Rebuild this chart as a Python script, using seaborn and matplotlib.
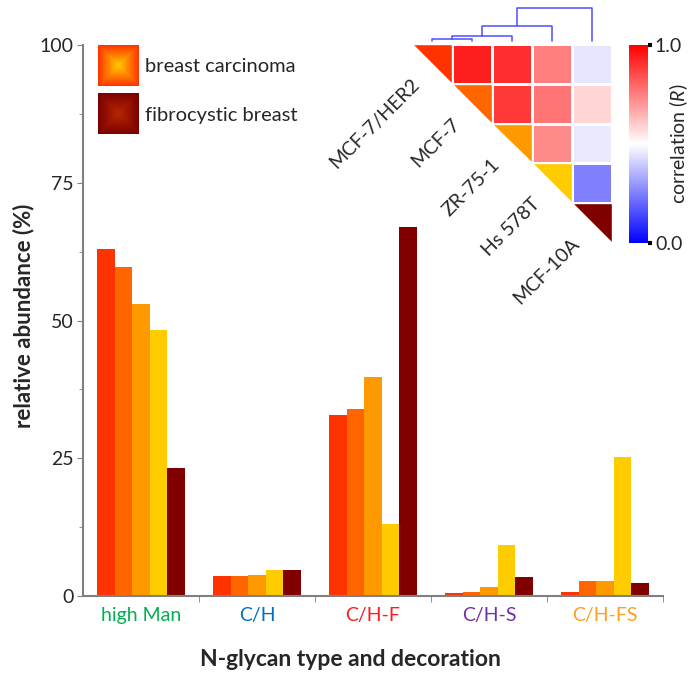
"""
N-glycan class abundance per breast cell line, with an inset
correlation heatmap (upper triangle) and its dendrogram.
"""

import numpy as np
import pandas as pd
import matplotlib
matplotlib.use("Agg")
import matplotlib.pyplot as plt
from matplotlib.patches import Polygon
from matplotlib.ticker import MultipleLocator, FixedLocator
import seaborn as sns

# ---- data -------------------------------------------------------------
categories = ["high Man", "C/H", "C/H-F", "C/H-S", "C/H-FS"]
category_colors = ["#00B050", "#0070C0", "#FF1A1A", "#7030A0", "#FF9F1C"]

cell_lines = ["MCF-7/HER2", "MCF-7", "ZR-75-1", "Hs 578T", "MCF-10A"]
line_colors = ["#FF3300", "#FF6600", "#FF9900", "#FFCC00", "#800000"]

mcf7_her2 = [63.0, 3.7, 32.8, 0.5, 0.8]
mcf7 = [59.8, 3.7, 33.9, 0.7, 2.7]
zr75_1 = [53.0, 3.8, 39.7, 1.6, 2.7]
hs578t = [48.2, 4.8, 13.1, 9.3, 25.2]
mcf10a = [23.3, 4.8, 67.0, 3.4, 2.3]

# pairwise correlation (R) between cell lines
corr_rows = [
    [1.00, 0.94, 0.91, 0.75, 0.45],
    [0.94, 1.00, 0.89, 0.77, 0.58],
    [0.91, 0.89, 1.00, 0.73, 0.46],
    [0.75, 0.77, 0.73, 1.00, 0.25],
    [0.45, 0.58, 0.46, 0.25, 1.00],
]

# dendrogram merges: (left node, right node, height); nodes >= 5 are clusters
merges = [(0, 1, 0.07), (5, 2, 0.15), (6, 3, 0.44), (7, 4, 1.00)]

legend_labels = ["breast carcinoma", "fibrocystic breast"]

# ---- style ------------------------------------------------------------
sns.set_style("ticks")
plt.rcParams["font.family"] = ["Lato", "DejaVu Sans"]
plt.rcParams["mathtext.fontset"] = "custom"
plt.rcParams["mathtext.it"] = "Lato:italic"
plt.rcParams["mathtext.rm"] = "Lato"
GRAY = "#808080"

fig = plt.figure(figsize=(6.95, 6.8), dpi=100)
W, H = 695, 680


def box(x0, y0, x1, y1):
    """pixel box (top-left origin) -> figure fraction rect"""
    return [x0 / W, 1 - y1 / H, (x1 - x0) / W, (y1 - y0) / H]


def at(x, y):
    """pixel point (top-left origin) -> figure fraction"""
    return x / W, 1 - y / H


# ---- bar chart --------------------------------------------------------
ax = fig.add_axes(box(83, 45, 663, 596))
ax.set_zorder(3)
ax.patch.set_visible(False)

series = [mcf7_her2, mcf7, zr75_1, hs578t, mcf10a]
df = pd.DataFrame(
    [(cat, line, val) for line, vals in zip(cell_lines, series)
     for cat, val in zip(categories, vals)],
    columns=["category", "cell_line", "abundance"],
)
sns.barplot(data=df, x="category", y="abundance", hue="cell_line",
            order=categories, hue_order=cell_lines, palette=line_colors,
            width=0.76, gap=0, saturation=1, linewidth=0, legend=False, ax=ax)

ax.set_xlim(-0.5, 4.5)
ax.set_ylim(0, 100)
ax.yaxis.set_major_locator(FixedLocator([0, 25, 50, 75, 100]))
ax.yaxis.set_minor_locator(MultipleLocator(12.5))
ax.xaxis.set_minor_locator(FixedLocator([0.5, 1.5, 2.5, 3.5, 4.5]))
ax.tick_params(axis="x", which="major", length=0, pad=8, labelsize=14)
ax.tick_params(axis="x", which="minor", length=4, color=GRAY, direction="out")
ax.tick_params(axis="y", which="major", length=4, color=GRAY, labelsize=14, pad=3)
ax.tick_params(axis="y", which="minor", length=3, color=GRAY)
for lbl, c in zip(ax.get_xticklabels(), category_colors):
    lbl.set_color(c)
sns.despine(ax=ax)
for s in ("left", "bottom"):
    ax.spines[s].set_color(GRAY)
    ax.spines[s].set_linewidth(1.5)
ax.set_xlabel("")
ax.set_ylabel("")
fig.text(*at(350, 659), "N-glycan type and decoration", fontsize=16.5,
         fontweight="bold", ha="center", va="center")
fig.text(*at(24, 316), "relative abundance (%)", fontsize=16,
         fontweight="bold", ha="center", va="center", rotation=90)

# ---- gradient legend --------------------------------------------------
u = np.linspace(-1, 1, 81)
d = np.maximum(np.abs(u)[None, :], np.abs(u)[:, None])[..., None]
grads = [
    (np.array([1.0, 0.80, 0.0]), np.array([1.0, 0.20, 0.0])),
    (np.array([0.72, 0.15, 0.0]), np.array([0.48, 0.0, 0.0])),
]
for k, ((c_in, c_out), label) in enumerate(zip(grads, legend_labels)):
    y0 = 45 + k * 48
    lax = fig.add_axes(box(98, y0, 139, y0 + 41))
    lax.imshow(c_in * (1 - d) + c_out * d, aspect="auto")
    lax.axis("off")
    fig.text(*at(145, y0 + 22), label, fontsize=14.5, va="center", ha="left")

# ---- correlation heatmap ----------------------------------------------
hax = fig.add_axes(box(412, 44, 612, 243))
cax = fig.add_axes(box(629, 45, 648, 243))
corr = pd.DataFrame(corr_rows, index=cell_lines, columns=cell_lines)
mask = np.tril(np.ones_like(corr.values, dtype=bool))
sns.heatmap(corr, mask=mask, cmap="bwr", vmin=0, vmax=1, linewidths=1,
            linecolor="white", xticklabels=False, yticklabels=False,
            cbar_ax=cax, ax=hax)
for i, (name, col) in enumerate(zip(cell_lines, line_colors)):
    hax.add_patch(Polygon([(i, i), (i + 1, i), (i + 1, i + 1)], closed=True,
                          facecolor=col, edgecolor="white", linewidth=1))
    hax.text(i + 0.12, i + 0.95, name, rotation=45, rotation_mode="anchor",
             ha="right", va="center", fontsize=14, clip_on=False)
hax.set_xlim(0, 5)
hax.set_ylim(5, 0)
hax.axis("off")

cbar = hax.collections[0].colorbar
cbar.outline.set_visible(False)
cbar.set_ticks([0, 1])
cbar.set_ticklabels(["0.0", "1.0"])
cax.tick_params(length=3, width=3, color="black", labelsize=14, pad=2)
fig.text(*at(679, 144), "correlation ($\\mathit{R}$)", fontsize=14,
         rotation=90, ha="center", va="center")

# ---- dendrogram -------------------------------------------------------
dax = fig.add_axes(box(412, 8, 612, 41))
pos = {i: (i + 0.5, 0.0) for i in range(len(cell_lines))}
for k, (a, b, h) in enumerate(merges):
    (xa, ha), (xb, hb) = pos[a], pos[b]
    dax.plot([xa, xa, xb, xb], [ha, h, h, hb], color="#4D4DFF", lw=1.1,
             clip_on=False)
    pos[len(cell_lines) + k] = ((xa + xb) / 2, h)
dax.set_xlim(0, 5)
dax.set_ylim(0, 1)
dax.axis("off")

plt.savefig("out.png", dpi=100)
plt.close()
